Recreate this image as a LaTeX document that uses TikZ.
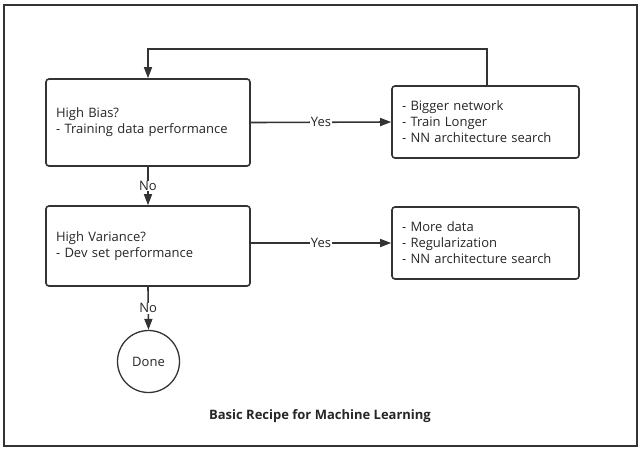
\documentclass[tikz,border=0pt]{standalone}
\usepackage{fontspec}
\setmainfont{Open Sans}
\usetikzlibrary{arrows.meta}
\tikzset{>={Triangle[length=11pt,width=8pt]}}
\tikzset{
  stepbox/.style={draw=black!80, text=black!85, line width=1.6pt, rounded corners=3pt, align=left,
    inner xsep=10pt, font=\fontsize{13}{16}\selectfont},
  endcircle/.style={draw=black!80, text=black!85, line width=1.3pt, circle, minimum size=62pt,
    font=\fontsize{13}{16}\selectfont},
  flow/.style={draw=black!80, line width=1.6pt, ->},
  answer/.style={fill=white, text=black!85, inner sep=0.5pt, font=\fontsize{13}{16}\selectfont}
}

\begin{document}
\begin{tikzpicture}[x=1pt, y=-1pt]

\useasboundingbox (0,0) rectangle (642,451);
\draw[black!80, line width=2pt] (4,5) rectangle (637,446);

\node[stepbox, minimum width=204pt, minimum height=87pt, text width=184pt] (bias) at (148,122.5)
  {High Bias?\\- Training data performance};
\node[stepbox, minimum width=187pt, minimum height=72pt, text width=167pt] (fixbias) at (485.5,122)
  {- Bigger network\\- Train Longer\\- NN architecture search};
\node[stepbox, minimum width=204pt, minimum height=80pt, text width=184pt] (variance) at (148,246)
  {High Variance?\\- Dev set performance};
\node[stepbox, minimum width=187pt, minimum height=72pt, text width=167pt] (fixvar) at (485.5,243)
  {- More data\\- Regularization\\- NN architecture search};
\node[endcircle] (done) at (148.5,361.5) {Done};

\coordinate (loopR) at (487,49);
\coordinate (loopL) at (148,49);

% yes branches
\draw[flow] (bias.east) -- node[answer] {Yes} (fixbias.west);
\draw[flow] (variance.east |- 0,243) -- node[answer] {Yes} (fixvar.west);

% no branches
\draw[flow] (bias.south) -- node[answer] {No} (variance.north);
\draw[flow] (variance.south) -- node[answer] {No} (done.north);

% back to the start
\draw[flow] (fixbias.north -| loopR) -- (loopR) -- (loopL) -- (bias.north);

\node[text=black!85, font=\bfseries\fontsize{13}{16}\selectfont] (title) at (320,416) {Basic Recipe for Machine Learning};

\end{tikzpicture}
\end{document}
